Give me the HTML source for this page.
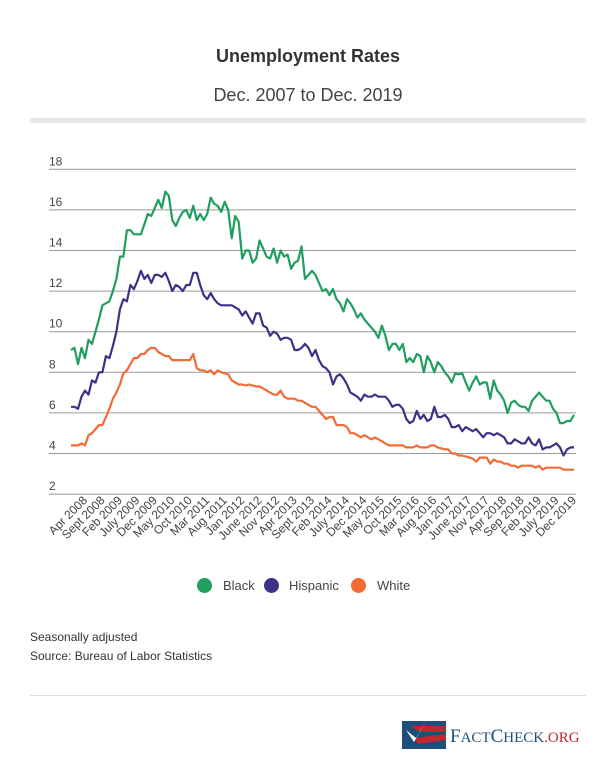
<!DOCTYPE html>
<html><head><meta charset="utf-8">
<style>
body{margin:0;background:#fff;font-family:"Liberation Sans",sans-serif;}
#wrap{position:relative;width:616px;height:764px;overflow:hidden;background:#fff;}
.t{position:absolute;left:0;width:616px;text-align:center;color:#333;}
</style></head>
<body>
<div id="wrap">
<div class="t" style="top:46px;font-size:18px;font-weight:bold;">Unemployment Rates</div>
<div class="t" style="top:85px;font-size:18px;color:#444;">Dec. 2007 to Dec. 2019</div>
<div style="position:absolute;left:30px;top:118px;width:556px;height:5px;background:#e6e6e6;"></div>
<svg id="chart" width="616" height="560" style="position:absolute;left:0;top:0;"></svg>
<div style="position:absolute;top:577px;left:0;width:616px;font-size:13px;color:#444;">
 <span style="position:absolute;left:197px;top:0;"><span style="display:inline-block;width:15px;height:15px;border-radius:50%;background:#1f9e5f;vertical-align:middle;"></span><span style="margin-left:11px;vertical-align:middle;">Black</span></span>
 <span style="position:absolute;left:264px;top:0;"><span style="display:inline-block;width:15px;height:15px;border-radius:50%;background:#3a3287;vertical-align:middle;"></span><span style="margin-left:10px;vertical-align:middle;">Hispanic</span></span>
 <span style="position:absolute;left:351px;top:0;"><span style="display:inline-block;width:15px;height:15px;border-radius:50%;background:#f26a35;vertical-align:middle;"></span><span style="margin-left:11px;vertical-align:middle;">White</span></span>
</div>
<div style="position:absolute;left:30px;top:630px;font-size:12px;color:#333;">Seasonally adjusted</div>
<div style="position:absolute;left:30px;top:649px;font-size:12px;color:#333;">Source: Bureau of Labor Statistics</div>
<div style="position:absolute;left:30px;top:695px;width:556px;height:1px;background:#ddd;"></div>
<svg width="190" height="40" style="position:absolute;left:400px;top:712px;">
 <rect x="2" y="9" width="44" height="28" fill="#1d4f7c"/>
 <path d="M10 14 L46 14 L46 20 L20 20 Z" fill="#c1272d"/>
 <path d="M14 26 L46 22 L46 28 L18 32 Z" fill="#c1272d"/>
 <path d="M6 18 L14 30 L30 2 L16 26 Z" fill="#fff"/>
 <text x="50" y="30" font-family="Liberation Serif, serif" font-size="19" fill="#1d4f7c">F<tspan font-size="15">ACT</tspan>C<tspan font-size="15">HECK</tspan><tspan fill="#c1272d" font-size="15">.ORG</tspan></text>
</svg>
</div>
<script>
const categoryStart = "Dec 2007"; // monthly points
const tickLabels = ["Apr 2008","Sept 2008","Feb 2009","July 2009","Dec 2009","May 2010","Oct 2010","Mar 2011","Aug 2011","Jan 2012","June 2012","Nov 2012","Apr 2013","Sept 2013","Feb 2014","July 2014","Dec 2014","May 2015","Oct 2015","Mar 2016","Aug 2016","Jan 2017","June 2017","Nov 2017","Apr 2018","Sep 2018","Feb 2019","July 2019","Dec 2019"];
const yTicks = [2,4,6,8,10,12,14,16,18];
const black = [9.1,9.2,8.4,9.2,8.7,9.6,9.4,10.0,10.6,11.3,11.4,11.5,12.0,12.6,13.7,13.7,15.0,15.0,14.8,14.8,14.8,15.3,15.8,15.7,16.1,16.5,16.1,16.9,16.7,15.5,15.2,15.6,15.9,16.0,15.6,16.2,15.5,15.8,15.5,15.8,16.6,16.3,16.2,15.9,16.4,16.0,14.6,15.7,15.4,13.6,14.0,14.0,13.4,13.6,14.5,14.1,13.7,13.6,14.1,13.4,14.0,13.7,13.8,13.1,13.4,13.5,14.2,12.6,12.8,13.0,12.8,12.4,12.0,12.1,11.8,12.1,11.6,11.4,11.0,11.6,11.4,11.1,10.7,10.9,10.6,10.4,10.2,10.0,9.7,10.3,9.8,9.1,9.4,9.4,9.1,9.4,8.5,8.7,8.5,8.9,8.8,8.0,8.8,8.5,8.0,8.5,8.3,8.0,7.8,7.5,7.95,7.9,7.95,7.5,7.1,7.5,7.8,7.4,7.5,7.5,6.7,7.6,7.1,6.9,6.6,6.0,6.5,6.6,6.4,6.3,6.3,6.1,6.6,6.8,7.0,6.8,6.6,6.6,6.2,6.0,5.5,5.5,5.6,5.6,5.9];
const hispanic = [6.3,6.3,6.2,6.8,7.1,6.9,7.6,7.5,8.0,8.0,8.8,8.7,9.3,10.0,11.1,11.6,11.5,12.3,12.1,12.5,13.0,12.6,12.8,12.4,12.8,12.8,12.7,12.9,12.5,12.0,12.3,12.2,12.0,12.3,12.3,12.9,12.9,12.3,11.8,11.6,11.9,11.6,11.4,11.3,11.3,11.3,11.3,11.2,11.1,10.8,11.0,10.7,10.4,10.9,10.9,10.3,10.2,9.8,10.0,9.9,9.6,9.7,9.7,9.6,9.1,9.1,9.2,9.4,9.2,8.8,9.1,8.6,8.3,8.2,8.0,7.4,7.8,7.9,7.7,7.4,7.0,6.9,6.8,6.6,6.9,6.8,6.8,6.9,6.8,6.8,6.8,6.6,6.3,6.4,6.4,6.2,5.7,5.5,5.6,6.1,5.7,5.9,5.6,5.7,6.3,5.8,5.8,5.9,5.7,5.3,5.3,5.4,5.1,5.3,5.2,5.1,5.2,5.0,4.8,5.0,5.0,4.9,5.0,4.9,4.8,4.5,4.5,4.7,4.6,4.5,4.5,4.8,4.5,4.4,4.7,4.2,4.3,4.3,4.4,4.5,4.3,3.9,4.2,4.3,4.3];
const white = [4.4,4.4,4.4,4.5,4.4,4.9,5.0,5.2,5.4,5.4,5.8,6.2,6.7,7.0,7.4,7.95,8.1,8.4,8.7,8.7,8.9,8.9,9.1,9.2,9.2,9.0,8.9,8.8,8.8,8.6,8.6,8.6,8.6,8.6,8.6,8.9,8.2,8.1,8.1,8.0,8.1,7.9,8.1,8.0,7.95,7.9,7.6,7.5,7.4,7.4,7.35,7.4,7.35,7.3,7.3,7.2,7.1,7.0,6.9,6.9,7.1,6.8,6.7,6.7,6.7,6.6,6.6,6.5,6.4,6.3,6.3,6.1,5.9,5.7,5.8,5.8,5.4,5.4,5.4,5.3,5.0,5.0,4.9,4.8,4.9,4.8,4.7,4.8,4.7,4.6,4.5,4.4,4.4,4.4,4.4,4.4,4.3,4.3,4.3,4.4,4.3,4.3,4.3,4.4,4.4,4.3,4.25,4.2,4.2,4.0,4.0,3.9,3.9,3.85,3.8,3.75,3.6,3.8,3.8,3.8,3.5,3.7,3.6,3.6,3.5,3.5,3.4,3.4,3.3,3.4,3.4,3.4,3.4,3.3,3.4,3.2,3.3,3.3,3.3,3.3,3.3,3.2,3.2,3.2,3.2];

const NS="http://www.w3.org/2000/svg";
const svg=document.getElementById('chart');
const X0=71, X1=574, N=145;
function xScale(i){return X0+(X1-X0)*i/(N-1);}
function yScale(v){return 169.3+(18-v)*20.3;}
function mk(tag,attrs){const e=document.createElementNS(NS,tag);for(const k in attrs)e.setAttribute(k,attrs[k]);svg.appendChild(e);return e;}
yTicks.forEach(v=>{
 const l=mk('line',{x1:49,x2:576,y1:yScale(v),y2:yScale(v),stroke:'#999','stroke-width':1});
 
 
 const t=mk('text',{x:49,y:yScale(v)-4,'font-size':12,fill:'#444','font-family':'Liberation Sans, sans-serif'});
 t.textContent=v;
 
 
});
tickLabels.forEach((lab,k)=>{
 const i=4+k*5;
 const x=xScale(i)+3, y=501;
 const t=mk('text',{x:x,y:y,'font-size':12,fill:'#444','text-anchor':'end','font-family':'Liberation Sans, sans-serif',transform:'rotate(-45 '+x+' '+y+')'});
 t.textContent=lab;
 
 
});
[[white,'#f26a35','white'],[hispanic,'#3a3287','hispanic'],[black,'#1f9e5f','black']].forEach(([arr,c,n])=>{
 const d=arr.map((v,i)=>(i?'L':'M')+xScale(i).toFixed(1)+' '+yScale(v).toFixed(1)).join(' ');
 const p=mk('path',{d:d,fill:'none',stroke:c,'stroke-width':2.2,'stroke-linejoin':'round'});
 
 
});
</script>
</body></html>
